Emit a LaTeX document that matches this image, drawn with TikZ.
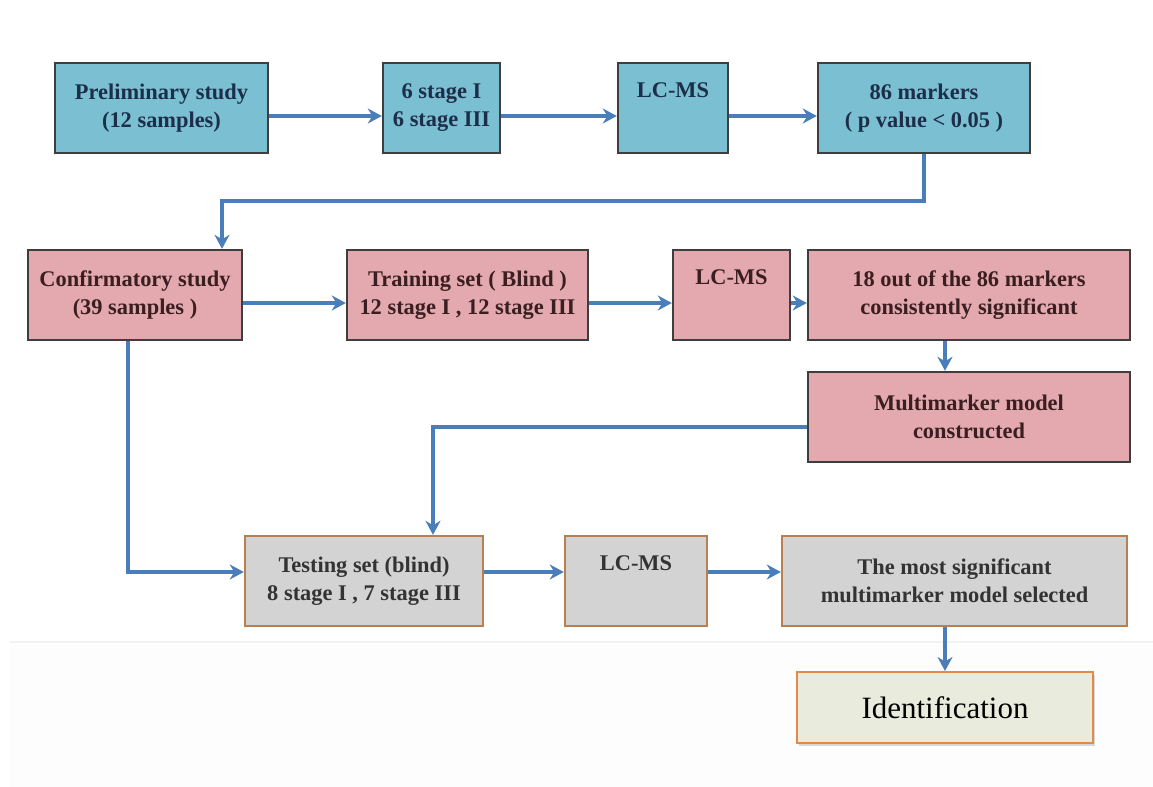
\documentclass[tikz,border=0pt]{standalone}
\usepackage{fontspec}
\setmainfont{Liberation Serif}
\usepackage{tikz}
\usetikzlibrary{positioning,calc,arrows.meta,shadows}
\definecolor{flowblue}{HTML}{4A7EBB}
\definecolor{prelimfill}{HTML}{7BBFD2}
\definecolor{prelimtext}{HTML}{1C2E4A}
\definecolor{confirmfill}{HTML}{E3A9AF}
\definecolor{confirmtext}{HTML}{3A1E20}
\definecolor{testfill}{HTML}{D3D3D3}
\definecolor{testdraw}{HTML}{B8804F}
\definecolor{identfill}{HTML}{E9EBDC}
\definecolor{identdraw}{HTML}{E08C48}
\definecolor{boxdraw}{HTML}{3E3E3E}

\begin{document}
\begin{tikzpicture}[
  x=0.5pt, y=-0.5pt,
  stagebox/.style={rectangle, draw=boxdraw, line width=1.2pt, align=center,
    minimum height=45pt, inner sep=2pt,
    font=\bfseries\fontsize{11.2}{14}\selectfont},
  prelimbox/.style={stagebox, fill=prelimfill, text=prelimtext},
  confirmbox/.style={stagebox, fill=confirmfill, text=confirmtext},
  testbox/.style={stagebox, fill=testfill, draw=testdraw, text=black!80},
  identbox/.style={rectangle, draw=identdraw, fill=identfill, line width=1pt,
    minimum width=148pt, minimum height=35.5pt,
    font=\fontsize{15.5}{17}\selectfont,
    drop shadow={opacity=0.3, shadow xshift=1pt, shadow yshift=-1.5pt}},
  flow/.style={draw=flowblue, line width=2pt, -{Stealth[length=7pt,width=7.5pt]}},
]
% canvas, px grid of the reference
\useasboundingbox[fill=white] (0,0) rectangle (1153,787);
\fill[black!0.8] (10,645) rectangle (1153,787);
\draw[black!5, line width=0.6pt] (10,642) -- (1153,642);

% Preliminary study
\node[prelimbox, minimum width=106.5pt] (prelim)  at (161.5,108) {Preliminary study\\(12 samples)};
\node[prelimbox, minimum width=58.5pt]  (stagesA) at (441.5,108) {6 stage I\\6 stage III};
\node[prelimbox, minimum width=55pt]    (lcmsA)   at (673,108)   {LC-MS\\\strut};
\node[prelimbox, minimum width=106pt]   (markers) at (924,108)   {86 markers\\( p value < 0.05 )};

% Confirmatory study
\node[confirmbox, minimum width=107pt]   (confirm)    at (135,295)   {Confirmatory study\\(39 samples )};
\node[confirmbox, minimum width=120.5pt] (training)   at (467.5,295) {Training set  ( Blind )\\12 stage I , 12 stage III};
\node[confirmbox, minimum width=58.5pt]  (lcmsB)      at (731.5,295) {LC-MS\\\strut};
\node[confirmbox, minimum width=161pt]   (sigmarkers) at (969,295)   {18 out of the 86 markers\\consistently significant};
\node[confirmbox, minimum width=161pt]   (multimodel) at (969,417)   {Multimarker model\\constructed};

% Testing set
\node[testbox, minimum width=119pt]    (testing)   at (364,581)   {Testing set  (blind)\\8 stage I ,  7 stage III};
\node[testbox, minimum width=71pt]     (lcmsC)     at (636,581)   {LC-MS\\\strut};
\node[testbox, minimum width=172.5pt]  (bestmodel) at (954.5,581) {The most significant\\multimarker model selected};
\node[identbox] (ident) at (945,707.5) {Identification};

% connectors
\draw[flow] ([yshift=-4pt]prelim.east)  -- ([yshift=-4pt]stagesA.west);
\draw[flow] ([yshift=-4pt]stagesA.east) -- ([yshift=-4pt]lcmsA.west);
\draw[flow] ([yshift=-4pt]lcmsA.east)   -- ([yshift=-4pt]markers.west);
\draw[flow] (markers.south) -- ++(0,47) -| ([xshift=43.5pt]confirm.north);
\draw[flow] ([yshift=-4pt]confirm.east)  -- ([yshift=-4pt]training.west);
\draw[flow] ([yshift=-4pt]training.east) -- ([yshift=-4pt]lcmsB.west);
\draw[flow] ([yshift=-4pt]lcmsB.east)    -- ([yshift=-4pt]sigmarkers.west);
\draw[flow] ([xshift=-12pt]sigmarkers.south) -- ([xshift=-12pt]multimodel.north);
\draw[flow] ([yshift=-5pt]multimodel.west) -| ([xshift=34.5pt]testing.north);
\draw[flow] ([xshift=-3.5pt]confirm.south) |- ([yshift=4.5pt]testing.west);
\draw[flow] ([yshift=4.5pt]testing.east) -- ([yshift=4.5pt]lcmsC.west);
\draw[flow] ([yshift=4.5pt]lcmsC.east)   -- ([yshift=4.5pt]bestmodel.west);
\draw[flow] ([xshift=-4.75pt]bestmodel.south) -- (ident.north);
\end{tikzpicture}
\end{document}
